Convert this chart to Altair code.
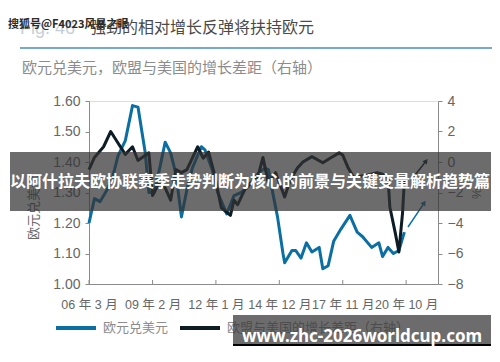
import altair as alt
import pandas as pd

# ---------------- data ----------------
eur_dates = ["2006/03", "2006/06", "2006/09", "2007/01", "2007/04", "2007/07", "2007/11",
             "2008/03", "2008/06", "2008/10", "2008/12", "2009/03", "2009/06", "2009/09",
             "2009/12", "2010/03", "2010/06", "2010/09", "2010/12", "2011/05", "2011/07",
             "2011/11", "2012/02", "2012/07", "2012/11", "2013/03", "2013/07", "2013/12",
             "2014/04", "2014/06", "2014/09", "2014/11", "2015/02", "2015/03", "2015/07",
             "2015/09", "2015/12", "2016/03", "2016/06", "2016/10", "2016/12", "2017/03",
             "2017/06", "2017/10", "2018/03", "2018/07", "2018/10", "2019/03", "2019/07",
             "2019/09", "2019/12", "2020/03", "2020/06", "2020/09"]
eur_vals = [1.20, 1.28, 1.27, 1.31, 1.35, 1.42, 1.47,
            1.585, 1.58, 1.43, 1.30, 1.30, 1.38, 1.465,
            1.43, 1.36, 1.22, 1.31, 1.38, 1.45, 1.44,
            1.375, 1.30, 1.23, 1.29, 1.30, 1.32, 1.36,
            1.38, 1.375, 1.28, 1.22, 1.10, 1.07, 1.11,
            1.11, 1.085, 1.135, 1.105, 1.12, 1.05, 1.06,
            1.14, 1.18, 1.225, 1.17, 1.155, 1.12, 1.135,
            1.09, 1.12, 1.10, 1.11, 1.17]

gap_dates = ["2006/03", "2006/06", "2006/11", "2007/03", "2007/07", "2007/11", "2008/03",
             "2008/06", "2008/12", "2009/02", "2009/06", "2009/09", "2009/12", "2010/03",
             "2010/06", "2010/09", "2011/03", "2011/06", "2011/09", "2011/12", "2012/04",
             "2012/09", "2012/11", "2013/01", "2013/05", "2013/08", "2013/12", "2014/03",
             "2014/06", "2014/10", "2015/03", "2015/06", "2015/10", "2016/01", "2016/06",
             "2016/12", "2017/04", "2017/09", "2017/11", "2018/02", "2018/05", "2019/01",
             "2019/06", "2019/09", "2019/12", "2020/01", "2020/04", "2020/06", "2020/08",
             "2020/09"]
gap_vals = [-0.5, 0.3, 1.0, 2.0, 1.25, 0.5, 1.0,
            0.1, 0.6, -2.2, -1.3, -1.7, -2.5, -0.5,
            -0.7, -0.5, 1.0, 0.25, 0.65, -0.7, -3.0,
            -3.5, -2.5, -2.8, -1.8, -1.4, -1.05, 0.3,
            -1.4, -0.7, -2.3, -1.2, -0.4, 0.0, 0.35,
            -0.05, 0.25, 0.6, 0.45, -0.4, -1.0, -0.85,
            -0.7, -0.8, -1.0, -2.95, -4.65, -5.9, -3.35,
            -1.2]

# arrows (start -> end)
eur_arrow = {"date": ["2020/11"], "date2": ["2021/08"], "eur": [1.187], "eur2": [1.266]}
gap_arrow = {"date": ["2021/02"], "date2": ["2021/09"], "gap": [-0.98], "gap2": [0.07]}

tick_dates = ["2006/03", "2009/02", "2012/01", "2014/12", "2017/11", "2020/10"]

series_names = ["欧元兑美元", "欧盟与美国的增长差距（右轴）"]
series_colors = ["#0b6fa4", "#0e1c26"]

title_text = "强劲的相对增长反弹将扶持欧元"
fig_text = "Fig. 46"
subtitle_text = "欧元兑美元，欧盟与美国的增长差距（右轴）"
watermark_text = "搜狐号@F4023风暴之眼"
banner_text = "以阿什拉夫欧协联赛季走势判断为核心的前景与关键变量解析趋势篇"
url_text = "www.zhc-2026worldcup.com"

# ---------------- helpers ----------------
def d(s):
    return s + "/01"

eur_df = pd.DataFrame({"date": [d(s) for s in eur_dates], "eur": eur_vals})
gap_df = pd.DataFrame({"date": [d(s) for s in gap_dates], "gap": gap_vals})
eur_arrow_df = pd.DataFrame({k: ([d(x) for x in v] if k.startswith("date") else v) for k, v in eur_arrow.items()})
gap_arrow_df = pd.DataFrame({k: ([d(x) for x in v] if k.startswith("date") else v) for k, v in gap_arrow.items()})
eur_head_df = pd.DataFrame({"date": eur_arrow_df["date2"], "eur": eur_arrow_df["eur2"]})
gap_head_df = pd.DataFrame({"date": gap_arrow_df["date2"], "gap": gap_arrow_df["gap2"]})
ticks_df = pd.DataFrame({"date": [d(s) for s in tick_dates]})

W, H = 349, 183
NUM_FONT = "Liberation Sans, Noto Sans CJK SC"
CJK = "Noto Sans CJK SC"
GREY = "#666666"

x_scale = alt.Scale(domain=[alt.DateTime(year=2006, month=3, date=1),
                            alt.DateTime(year=2022, month=3, date=20)])
x_axis = alt.Axis(
    values=[alt.DateTime(year=int(s[:4]), month=int(s[5:]), date=1) for s in tick_dates],
    format="%y 年 %-m 月", labelFont=NUM_FONT, labelFontSize=12.5, labelColor=GREY,
    labelPadding=14, tickSize=0, domainColor="#8a8a8a", grid=False, title=None,
    labelOverlap=False, labelFlush=False,
)

def X(field="date"):
    return alt.X(f"{field}:T", scale=x_scale, axis=x_axis, title=None)

left_axis = alt.Axis(
    orient="left", values=[1.0, 1.1, 1.2, 1.3, 1.4, 1.5, 1.6], format=".2f",
    labelFont=NUM_FONT, labelFontSize=14, labelColor=GREY, labelPadding=5,
    tickSize=4, tickColor="#8a8a8a", domainColor="#8a8a8a", grid=False,
    title="欧元兑美元", titleFont=CJK, titleFontSize=13, titleFontWeight="normal",
    titleColor=GREY, titleX=-56, titleY=106, titleAngle=-90, titleBaseline="middle",
    titleAlign="center",
)
right_axis = alt.Axis(
    orient="right", values=[-8, -6, -4, -2, 0, 2, 4], format="d",
    labelFont=NUM_FONT, labelFontSize=14, labelColor=GREY, labelPadding=5,
    tickSize=4, tickColor="#8a8a8a", domainColor="#8a8a8a", grid=False,
    title="%", titleFont=NUM_FONT, titleFontSize=12, titleFontWeight="normal",
    titleColor=GREY, titleX=37, titleY=92, titleAngle=90, titleBaseline="middle",
    titleAlign="center",
)
left_scale = alt.Scale(domain=[1.0, 1.6], nice=False, zero=False)
right_scale = alt.Scale(domain=[-8, 4], nice=False, zero=False)

# ---------------- left group (EUR/USD) ----------------
blue = series_colors[0]
eur_line = alt.Chart(eur_df).mark_line(color=blue, strokeWidth=3, strokeJoin="round").encode(
    x=X(), y=alt.Y("eur:Q", scale=left_scale, axis=left_axis, title="欧元兑美元"))
eur_arrow_rule = alt.Chart(eur_arrow_df).mark_rule(color=blue, strokeWidth=1.5).encode(
    x=X(), x2="date2:T", y=alt.Y("eur:Q", scale=left_scale, axis=left_axis, title="欧元兑美元"),
    y2="eur2:Q")
eur_arrow_head = alt.Chart(eur_head_df).mark_point(
    shape="triangle-up", filled=True, size=32, angle=34, color=blue, opacity=1).encode(
    x=X(), y=alt.Y("eur:Q", scale=left_scale, axis=left_axis, title="欧元兑美元"))
left_group = alt.layer(eur_line, eur_arrow_rule, eur_arrow_head)

# ---------------- right group (growth gap) ----------------
dark = series_colors[1]
gap_line = alt.Chart(gap_df).mark_line(color=dark, strokeWidth=3, strokeJoin="round").encode(
    x=X(), y=alt.Y("gap:Q", scale=right_scale, axis=right_axis, title="%"))
gap_arrow_rule = alt.Chart(gap_arrow_df).mark_rule(color=dark, strokeWidth=1.5).encode(
    x=X(), x2="date2:T", y=alt.Y("gap:Q", scale=right_scale, axis=right_axis, title="%"),
    y2="gap2:Q")
gap_arrow_head = alt.Chart(gap_head_df).mark_point(
    shape="triangle-up", filled=True, size=32, angle=37, color=dark, opacity=1).encode(
    x=X(), y=alt.Y("gap:Q", scale=right_scale, axis=right_axis, title="%"))
right_group = alt.layer(gap_line, gap_arrow_rule, gap_arrow_head)

# ---------------- decorations ----------------
x_ticks = alt.Chart(ticks_df).mark_rule(color="#8a8a8a", strokeWidth=1).encode(
    x=X(), y=alt.value(H), y2=alt.value(H - 4))

def txt(text, x, y, size, color, font=CJK, weight="normal", align="left", baseline="middle"):
    return alt.Chart(pd.DataFrame({"t": [text]})).mark_text(
        font=font, fontSize=size, color=color, fontWeight=weight, align=align,
        baseline=baseline).encode(x=alt.value(x), y=alt.value(y), text="t:N")

def box(x1, x2, y1, y2, color, opacity=1.0):
    return alt.Chart(pd.DataFrame({"a": [0]})).mark_rect(color=color, opacity=opacity).encode(
        x=alt.value(x1), x2=alt.value(x2), y=alt.value(y1), y2=alt.value(y2))

def hline(x1, x2, y, color, width):
    return alt.Chart(pd.DataFrame({"a": [0]})).mark_rule(color=color, strokeWidth=width).encode(
        x=alt.value(x1), x2=alt.value(x2), y=alt.value(y))

head = [
    txt(fig_text, -69, -72, 18, "#c5cfd8", font="Liberation Sans"),
    txt(title_text, 1, -73, 16, "#4a4a4a"),
    txt(watermark_text, -81, -76, 11, "#2a2a2a", weight="bold"),
    hline(-69, 420, -53, "#4a8db8", 1.5),
    txt(subtitle_text, -67, -33, 15, "#8c8c8c"),
]
legend = [
    hline(-33, 7, 227, series_colors[0], 4),
    txt(series_names[0], 14, 227, 13, "#8c8c8c"),
    hline(91, 131, 227, series_colors[1], 4),
    txt(series_names[1], 138, 227, 13, "#8c8c8c"),
]
overlays = [
    box(-79, 402, 51, 110, "#333333", 0.72),
    txt(banner_text, 161, 81, 16, "white", weight="bold", align="center"),
    box(144, 402, 214, 243, "#333333", 0.72),
    box(144, 402, 243, 252, "#000000", 1.0),
    txt(url_text, 273, 236, 17, "white", font="Noto Sans, " + CJK, weight="bold", align="center"),
]

deco = alt.layer(x_ticks, *head, *legend, *overlays)

chart = alt.layer(left_group, right_group, deco).resolve_scale(y="independent").properties(
    width=W, height=H,
    autosize=alt.AutoSizeParams(type="none"),
    padding={"left": 81, "top": 93, "right": 54, "bottom": 62},
).configure_view(stroke=None).configure(background="white")

chart.save("out.html", embed_options={"renderer": "svg", "actions": False})
